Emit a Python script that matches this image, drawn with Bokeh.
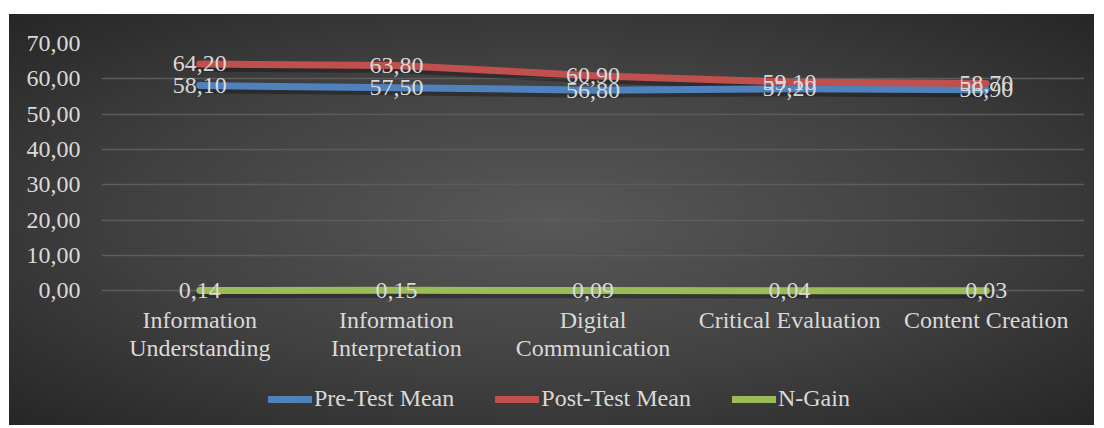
from bokeh.plotting import figure
from bokeh.layouts import column
from bokeh.models import FactorRange, Legend, LegendItem, ColumnDataSource, FixedTicker, Range1d
from bokeh.core.properties import value
from bokeh.embed import file_html
from bokeh.resources import INLINE

category_labels = ["Information\nUnderstanding", "Information\nInterpretation",
                   "Digital\nCommunication", "Critical Evaluation", "Content Creation"]
pre_test = [58.10, 57.50, 56.80, 57.20, 56.90]
post_test = [64.20, 63.80, 60.90, 59.10, 58.70]
n_gain = [0.14, 0.15, 0.09, 0.04, 0.03]
y_ticks = [0, 10, 20, 30, 40, 50, 60, 70]
series_names = ["Pre-Test Mean", "Post-Test Mean", "N-Gain"]
series_colors = ["#4f81bd", "#c0504d", "#9bbb59"]

FONT = "Liberation Serif"
TXT = "#d9d9d9"
FS = "24px"

def fmt(v):
    return f"{v:.2f}".replace(".", ",")

p = figure(width=1085, height=370, x_range=FactorRange(factors=category_labels, range_padding=0),
           y_range=(-3, 70), output_backend="svg", toolbar_location=None,
           min_border_left=92, min_border_right=10, min_border_top=29, min_border_bottom=83,
           background_fill_alpha=0, border_fill_alpha=0, outline_line_color=None)
# same scale shifted slightly, used for the soft drop shadow under each line
p.extra_y_ranges = {"shadow": Range1d(-3 + 0.9, 70 + 0.9)}

p.xgrid.grid_line_color = None
p.ygrid.grid_line_color = "#5c5c5c"
p.ygrid.grid_line_width = 1.5
p.yaxis.ticker = FixedTicker(ticks=y_ticks)
p.yaxis.major_label_overrides = {t: fmt(t) for t in y_ticks}
for ax in (p.xaxis, p.yaxis):
    ax.axis_line_color = None
    ax.major_tick_line_color = None
    ax.minor_tick_line_color = None
    ax.major_label_text_font = FONT
    ax.major_label_text_font_size = FS
    ax.major_label_text_color = TXT
p.yaxis.major_label_standoff = 15
p.xaxis.major_label_standoff = -1
p.xaxis.major_label_text_line_height = 1.08

sources = []
for vals in [pre_test, post_test, n_gain]:
    sources.append(ColumnDataSource(dict(x=category_labels, y=vals, t=[fmt(v) for v in vals])))

for src in sources:
    p.line("x", "y", source=src, y_range_name="shadow", line_color="black", line_alpha=0.3,
           line_width=9, line_cap="round", line_join="round")
for src, col in zip(sources, series_colors):
    p.line("x", "y", source=src, line_color=col, line_width=7, line_cap="round", line_join="round")
for src in sources:
    p.text("x", "y", text="t", source=src, text_align="center", text_baseline="middle",
           text_font=value(FONT), text_font_size=FS, text_color=TXT)

# legend strip (same series styles; the one placeholder point lies outside the view)
lg = figure(width=1085, height=41, x_range=(0, 1), y_range=(0, 1), output_backend="svg",
            toolbar_location=None, min_border=0, background_fill_alpha=0, border_fill_alpha=0,
            outline_line_color=None)
lg.axis.visible = False
lg.grid.visible = False
items = []
for name, col in zip(series_names, series_colors):
    r = lg.line(x=[-5], y=[-5], line_color=col, line_width=7, line_cap="round")
    items.append(LegendItem(label=name, renderers=[r]))
legend = Legend(items=items, orientation="horizontal", location=(167, 13),
                background_fill_alpha=0, border_line_color=None,
                label_text_font=FONT, label_text_font_size=FS, label_text_color=TXT,
                glyph_width=44, glyph_height=24, label_standoff=2, spacing=41,
                padding=0, margin=0)
lg.add_layout(legend, "center")

layout = column(p, lg, spacing=0,
                styles={"margin": "14px 0 0 9px",
                        "background": "radial-gradient(ellipse at 50% 50%, #585858 0%, #404040 55%, #262626 100%)"})

open("out.html", "w").write(file_html(layout, INLINE))
